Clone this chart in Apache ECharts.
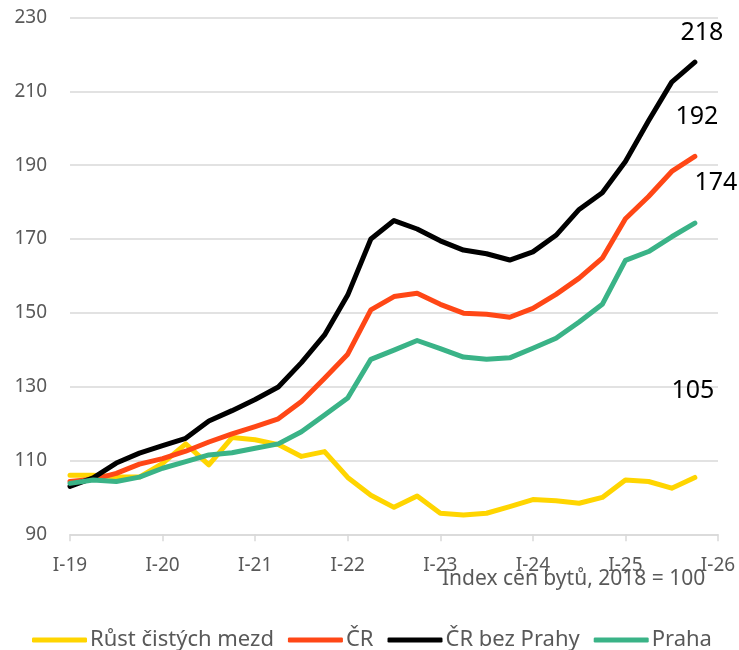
<!DOCTYPE html>
<html>
<head>
<meta charset="utf-8">
<script src="https://cdn.jsdelivr.net/npm/echarts@6/dist/echarts.min.js"></script>
<style>
  html, body { margin: 0; padding: 0; background: #fff; }
  #graph { width: 739px; height: 650px; }
</style>
</head>
<body>
<div id="graph"></div>
<script>
// čtvrtletí I-19 .. I-26
const quarters = [
  'I-19', 'II-19', 'III-19', 'IV-19',
  'I-20', 'II-20', 'III-20', 'IV-20',
  'I-21', 'II-21', 'III-21', 'IV-21',
  'I-22', 'II-22', 'III-22', 'IV-22',
  'I-23', 'II-23', 'III-23', 'IV-23',
  'I-24', 'II-24', 'III-24', 'IV-24',
  'I-25', 'II-25', 'III-25', 'IV-25',
  'I-26'
]

const mzdy = [106, 106, 105.6, 105.5, 109.2, 114.5, 108.8, 116.2, 115.6, 114.3, 111.1, 112.4, 105.4, 100.6,
  97.3, 100.4, 95.7, 95.2, 95.7, 97.5, 99.4, 99.1, 98.4, 100, 104.7, 104.3, 102.5, 105.4]
const cr = [104.3, 104.9, 106.5, 109, 110.5, 112.5, 115, 117.2, 119.2, 121.3, 126, 132.3, 138.8, 150.8,
  154.4, 155.3, 152.3, 149.9, 149.6, 148.8, 151.2, 155, 159.4, 164.8, 175.5, 181.5, 188.3, 192.4]
const crBezPrahy = [103, 105.3, 109.3, 112, 114, 116, 120.7, 123.5, 126.5, 129.9, 136.5, 144, 154.8, 170,
  175, 172.7, 169.5, 167, 166, 164.3, 166.5, 171, 178, 182.5, 191, 202, 212.5, 217.9]
const praha = [103.8, 104.7, 104.3, 105.5, 107.9, 109.7, 111.5, 112.1, 113.3, 114.5, 117.8, 122.3, 126.9, 137.4,
  139.9, 142.5, 140.3, 138, 137.4, 137.8, 140.4, 143.1, 147.5, 152.3, 164.2, 166.6, 170.6, 174.3]

const yTicks = [90, 230, 20] // min, max, krok

const font = 'Noto Sans'
const gray = '#595959'

function lineSeries(name, data, color, labelOffset) {
  const last = data.length - 1
  return {
    name: name,
    type: 'line',
    data: data,
    showSymbol: false,
    symbol: 'none',
    lineStyle: { color: color, width: 5, cap: 'round', join: 'round' },
    itemStyle: { color: color },
    markPoint: {
      symbol: 'circle',
      symbolSize: 0,
      silent: true,
      animation: false,
      data: [{ coord: [last, data[last]], value: Math.round(data[last]) }],
      label: {
        show: true,
        position: 'inside',
        offset: labelOffset,
        formatter: '{c}',
        color: '#000',
        fontFamily: font,
        fontSize: 25
      }
    }
  }
}

let graph = echarts.init(document.getElementById('graph'))
graph.setOption({
  animation: false,
  backgroundColor: '#fff',
  title: {
    text: 'Index cen bytů, 2018 = 100',
    left: 437,
    top: 564,
    textStyle: { color: gray, fontFamily: font, fontSize: 21, fontWeight: 'normal' }
  },
  grid: { left: 70, right: 21, top: 17.5, bottom: 115.7 },
  legend: {
    left: 27,
    top: 624,
    icon: 'roundRect',
    itemWidth: 55,
    itemHeight: 5,
    itemGap: 14,
    textStyle: { color: gray, fontFamily: font, fontSize: 22, padding: [0, 0, 0, -2] },
    data: ['Růst čistých mezd', 'ČR', 'ČR bez Prahy', 'Praha']
  },
  xAxis: {
    type: 'category',
    boundaryGap: false,
    data: quarters,
    axisLine: { lineStyle: { color: '#d9d9d9', width: 1.5 } },
    axisTick: { show: true, interval: 3, length: 7, lineStyle: { color: '#d9d9d9', width: 1.5 } },
    axisLabel: { interval: 3, margin: 22, color: gray, fontFamily: font, fontSize: 19 },
    splitLine: { show: false }
  },
  yAxis: {
    type: 'value',
    min: yTicks[0],
    max: yTicks[1],
    interval: yTicks[2],
    axisLine: { show: false },
    axisTick: { show: false },
    axisLabel: { margin: 23, color: gray, fontFamily: font, fontSize: 19 },
    splitLine: { lineStyle: { color: '#d9d9d9', width: 1.5 } }
  },
  series: [
    lineSeries('Růst čistých mezd', mzdy, '#FFD500', [-2, -87]),
    lineSeries('ČR', cr, '#FF4716', [2, -39]),
    lineSeries('ČR bez Prahy', crBezPrahy, '#000000', [7, -29]),
    lineSeries('Praha', praha, '#3AB387', [21, -40])
  ]
})
</script>
</body>
</html>
